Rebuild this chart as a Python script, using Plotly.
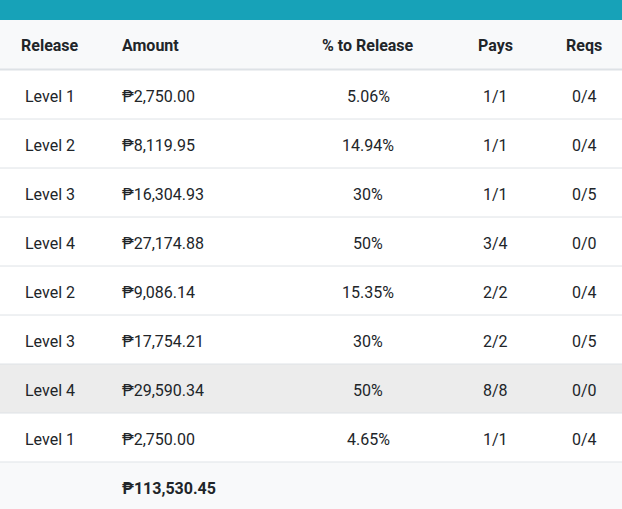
import plotly.graph_objects as go

# ---- data ----
columns = ["Release", "Amount", "% to Release", "Pays", "Reqs"]
releases = ["Level 1", "Level 2", "Level 3", "Level 4", "Level 2", "Level 3", "Level 4", "Level 1"]
amounts = ["₱2,750.00", "₱8,119.95", "₱16,304.93", "₱27,174.88", "₱9,086.14", "₱17,754.21", "₱29,590.34", "₱2,750.00"]
pct_to_release = ["5.06%", "14.94%", "30%", "50%", "15.35%", "30%", "50%", "4.65%"]
pays = ["1/1", "1/1", "1/1", "3/4", "2/2", "2/2", "8/8", "1/1"]
reqs = ["0/4", "0/4", "0/5", "0/0", "0/4", "0/5", "0/0", "0/4"]
total_amount = "₱113,530.45"
highlight_row = 6

# ---- layout constants (pixels) ----
W, H = 622, 509
TOP_BAR = 20
HEADER_H = 50
ROW_H = 49
col_x = [50, 120, 368, 495.5, 584]
col_anchor = ["center", "left", "center", "center", "center"]
TEXT = "#212529"
FONT = "Roboto"
FS = 16

fig = go.Figure()
shapes = []
annotations = []

# top teal bar
shapes.append(dict(type="rect", x0=0, x1=W, y0=0, y1=TOP_BAR, fillcolor="#17a2b8", line_width=0, layer="below"))
# header background
shapes.append(dict(type="rect", x0=0, x1=W, y0=TOP_BAR, y1=TOP_BAR + HEADER_H, fillcolor="#f8f9fa", line_width=0, layer="below"))
# header bottom border
shapes.append(dict(type="line", x0=0, x1=W, y0=TOP_BAR + HEADER_H - 0.5, y1=TOP_BAR + HEADER_H - 0.5,
                   line=dict(color="#dee2e6", width=2)))

for j, name in enumerate(columns):
    annotations.append(dict(x=col_x[j], y=TOP_BAR + HEADER_H / 2, text="<b>" + name + "</b>",
                            xanchor=col_anchor[j], yanchor="middle", showarrow=False,
                            font=dict(family=FONT, size=FS, color=TEXT)))

body_top = TOP_BAR + HEADER_H
rows = list(zip(releases, amounts, pct_to_release, pays, reqs))
for i, row in enumerate(rows):
    y0 = body_top + i * ROW_H
    if i == highlight_row:
        shapes.append(dict(type="rect", x0=0, x1=W, y0=y0, y1=y0 + ROW_H, fillcolor="#ececec",
                           line_width=0, layer="below"))
    shapes.append(dict(type="line", x0=0, x1=W, y0=y0 + ROW_H, y1=y0 + ROW_H,
                       line=dict(color="#dee2e6", width=1)))
    for j, val in enumerate(row):
        annotations.append(dict(x=col_x[j], y=y0 + ROW_H / 2 + 1.5, text=val,
                                xanchor=col_anchor[j], yanchor="middle", showarrow=False,
                                font=dict(family=FONT, size=FS, color=TEXT)))

# footer
foot_top = body_top + len(rows) * ROW_H
shapes.append(dict(type="rect", x0=0, x1=W, y0=foot_top + 0.5, y1=H, fillcolor="#f8f9fa", line_width=0, layer="below"))
annotations.append(dict(x=col_x[1], y=foot_top + ROW_H / 2 + 1.5, text="<b>" + total_amount + "</b>",
                        xanchor="left", yanchor="middle", showarrow=False,
                        font=dict(family=FONT, size=FS, color=TEXT)))

fig.add_trace(go.Scatter(x=[0, W], y=[0, H], mode="markers", marker=dict(opacity=0),
                         hoverinfo="skip", showlegend=False))

fig.update_layout(
    width=W, height=H,
    margin=dict(l=0, r=0, t=0, b=0),
    paper_bgcolor="white", plot_bgcolor="white",
    xaxis=dict(range=[0, W], visible=False, fixedrange=True),
    yaxis=dict(range=[H, 0], visible=False, fixedrange=True),
    shapes=shapes, annotations=annotations, showlegend=False,
)

fig.write_html("out.html", config={"displayModeBar": False},
               post_script="document.body.style.margin='0';document.body.style.overflow='hidden';")
